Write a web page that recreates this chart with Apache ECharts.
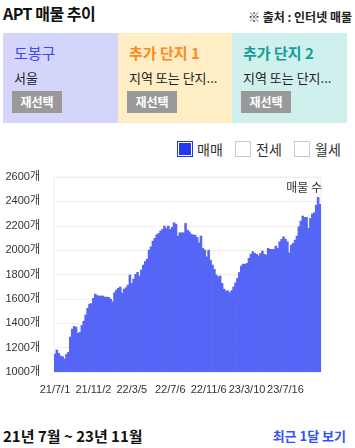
<!DOCTYPE html>
<html><head><meta charset="utf-8">
<script src="https://cdn.jsdelivr.net/npm/echarts@6/dist/echarts.min.js"></script>
<style>
*{margin:0;padding:0;box-sizing:border-box}
body{width:355px;height:448px;background:#fff;font-family:"Noto Sans CJK KR","Noto Sans",sans-serif;color:#111;position:relative;overflow:hidden}
.title{position:absolute;left:3px;top:1px;font-size:16px;font-weight:bold;letter-spacing:-0.5px}
.src{position:absolute;right:3px;top:8px;font-size:12px;font-weight:bold;color:#222}
.card{position:absolute;top:33px;height:90px;width:115px;padding-left:11px}
.card .h{position:absolute;left:11px;top:9px;font-size:15px;font-weight:bold}
.card .s{position:absolute;left:11px;top:35px;font-size:13px;color:#222;white-space:nowrap}
.card .b{position:absolute;left:9px;top:58px;width:50px;height:22px;background:#999;color:#fff;font-size:12px;font-weight:bold;text-align:center;line-height:22px}
.lg{position:absolute;top:141px;font-size:14px;color:#333;line-height:16px}
.box{position:absolute;top:141px;width:16px;height:16px;border:1px solid #c6c8d6;background:#fff}
.box.on{border:1px solid #1a35f0;background:#2238f5;box-shadow:inset 0 0 0 1px #fff}
#chart{position:absolute;left:0;top:160px;width:355px;height:240px}
.range{position:absolute;left:3px;top:425px;font-size:15px;font-weight:bold}
.recent{position:absolute;right:9px;top:426px;font-size:13px;font-weight:bold;color:#3552f0}
</style></head><body>
<div class="title">APT 매물 추이</div>
<div class="src">※ 출처 : 인터넷 매물</div>
<div class="card" style="left:3px;background:#d4d5fa"><div class="h" style="color:#3a48ff;font-weight:normal">도봉구</div><div class="s">서울</div><div class="b">재선택</div></div>
<div class="card" style="left:118px;background:#feedc5"><div class="h" style="color:#ff8a1c">추가 단지 1</div><div class="s">지역 또는 단지...</div><div class="b">재선택</div></div>
<div class="card" style="left:232px;background:#d0f0ee"><div class="h" style="color:#159e98">추가 단지 2</div><div class="s">지역 또는 단지...</div><div class="b">재선택</div></div>
<div class="box on" style="left:177px"></div><div class="lg" style="left:197px">매매</div>
<div class="box" style="left:235px"></div><div class="lg" style="left:256px">전세</div>
<div class="box" style="left:294px"></div><div class="lg" style="left:315px">월세</div>
<div id="chart"></div>
<div class="range">21년 7월 ~ 23년 11월</div>
<div class="recent">최근 1달 보기</div>
<script>
const dates = [
"21/7/1","21/7/7","21/7/13","21/7/19","21/7/25","21/7/31","21/8/6","21/8/12","21/8/18","21/8/24",
"21/8/30","21/9/5","21/9/11","21/9/17","21/9/23","21/9/29","21/10/5","21/10/12","21/10/19","21/10/26",
"21/11/2","21/11/8","21/11/14","21/11/20","21/11/26","21/12/2","21/12/8","21/12/14","21/12/20","21/12/26",
"22/1/1","22/1/7","22/1/13","22/1/19","22/1/25","22/1/31","22/2/6","22/2/12","22/2/19","22/2/26",
"22/3/5","22/3/11","22/3/17","22/3/23","22/3/29","22/4/4","22/4/10","22/4/16","22/4/22","22/4/28",
"22/5/4","22/5/10","22/5/16","22/5/22","22/5/28","22/6/3","22/6/9","22/6/15","22/6/22","22/6/29",
"22/7/6","22/7/12","22/7/18","22/7/24","22/7/30","22/8/5","22/8/11","22/8/17","22/8/23","22/8/29",
"22/9/4","22/9/10","22/9/16","22/9/22","22/9/28","22/10/4","22/10/10","22/10/16","22/10/23","22/10/30",
"22/11/6","22/11/12","22/11/18","22/11/24","22/11/30","22/12/6","22/12/12","22/12/18","22/12/24","22/12/30",
"23/1/5","23/1/11","23/1/17","23/1/23","23/1/29","23/2/4","23/2/10","23/2/17","23/2/24","23/3/3",
"23/3/10","23/3/16","23/3/22","23/3/28","23/4/3","23/4/9","23/4/15","23/4/21","23/4/27","23/5/3",
"23/5/9","23/5/15","23/5/21","23/5/28","23/6/4","23/6/11","23/6/18","23/6/25","23/7/2","23/7/9",
"23/7/16","23/7/22","23/7/28","23/8/3","23/8/9","23/8/15","23/8/21","23/8/27","23/9/2","23/9/8",
"23/9/14","23/9/20","23/9/26","23/10/2","23/10/8","23/10/14","23/10/20","23/10/26","23/11/1"
];
const listings = [
1150,1183,1156,1134,1128,1110,1148,1164,1290,1355,
1377,1370,1320,1328,1385,1420,1470,1525,1560,1565,
1607,1642,1630,1626,1626,1626,1617,1617,1615,1600,
1579,1653,1675,1690,1700,1650,1683,1694,1716,1798,
1730,1765,1803,1820,1790,1840,1880,1910,1930,2003,
2030,2077,2100,2129,2140,2160,2173,2200,2181,2200,
2173,2190,2227,2216,2118,2145,2145,2145,2222,2167,
2153,2134,2126,2126,2107,2063,2118,2017,2003,1948,
2003,1921,1880,1845,1798,1784,1790,1730,1683,1667,
1669,1653,1670,1700,1735,1771,1820,1872,1888,1886,
1894,1935,1968,1990,1976,1968,1956,1976,1995,1968,
1962,2017,2009,2009,2009,2036,2017,2071,2091,2112,
2093,2071,1981,2044,2058,2085,2118,2195,2241,2282,
2271,2271,2181,2263,2300,2309,2372,2435,2378
];
const yMin = 1000, yMax = 2600, yStep = 200;
const unit = "개";
const seriesLabel = "매물 수";
const labelFont = '"Liberation Sans", Arial, "Noto Sans CJK KR"';

const chart = echarts.init(document.getElementById('chart'), null, {renderer:'canvas'});
chart.setOption({
  animation:false,
  grid:{left:54,right:34,top:17,bottom:28,show:true,borderColor:'#eeeeee',borderWidth:1},
  xAxis:{type:'category',data:dates,boundaryGap:true,
    axisLine:{show:false},axisTick:{show:false},
    axisLabel:{interval:19,hideOverlap:false,color:'#333',fontSize:11,margin:12,fontFamily:labelFont}},
  yAxis:{type:'value',min:yMin,max:yMax,interval:yStep,
    axisLine:{show:false},axisTick:{show:false},
    splitLine:{lineStyle:{color:'#eeeeee'}},
    axisLabel:{color:'#333',fontSize:11,margin:14,fontFamily:labelFont,formatter:v=>v+unit}},
  series:[{type:'bar',data:listings,barWidth:2.6,
    itemStyle:{color:'#5566f7'}}],
  graphic:[{type:'text',right:33,top:21,style:{text:seriesLabel,fill:'#333',font:'12px "Noto Sans CJK KR"',textAlign:'right'}}]
});
</script>
</body></html>
